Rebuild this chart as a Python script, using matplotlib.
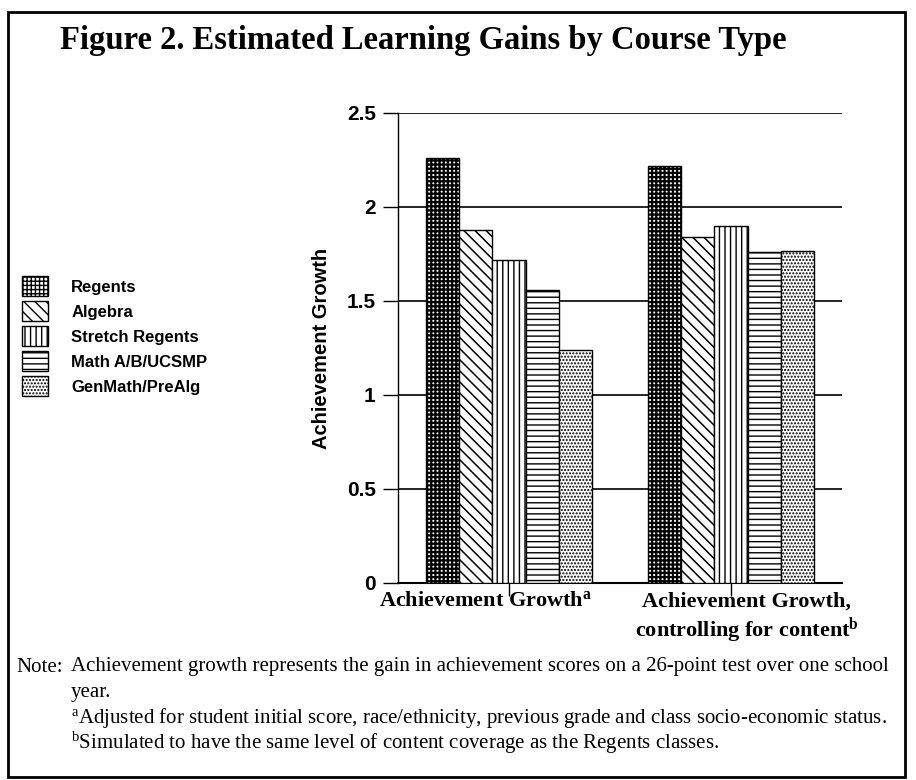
"""Figure 2: estimated learning gains by course type."""

import matplotlib.pyplot as plt
import numpy as np
from matplotlib.patches import Rectangle

plt.rcParams["mathtext.fontset"] = "custom"
plt.rcParams["mathtext.rm"] = "Liberation Serif"
plt.rcParams["mathtext.it"] = "Liberation Serif:italic"
plt.rcParams["mathtext.bf"] = "Liberation Serif:bold"
plt.rcParams["hatch.linewidth"] = 1.0

SANS = "Liberation Sans"
SERIF = "Liberation Serif"

# data
groups = ["Achievement Growth$^{\\mathbf{a}}$",
          "Achievement Growth,\ncontrolling for content$^{\\mathbf{b}}$"]
courses = ["Regents", "Algebra", "Stretch Regents", "Math A/B/UCSMP", "GenMath/PreAlg"]
regents = [2.26, 2.22]
algebra = [1.88, 1.84]
stretch_regents = [1.72, 1.90]
math_ab_ucsmp = [1.56, 1.76]
genmath_prealg = [1.24, 1.765]
yticks = [0, 0.5, 1, 1.5, 2, 2.5]
ytick_labels = ["0", "0.5", "1", "1.5", "2", "2.5"]

series = [regents, algebra, stretch_regents, math_ab_ucsmp, genmath_prealg]
hatches = ["++++", "\\\\\\", "|||", "---", "....."]
hatch_widths = [1.6, 1.1, 1.0, 1.0, 1.0]

fig = plt.figure(figsize=(9.16, 7.8), dpi=100)
ax = fig.add_axes([398 / 916, 1 - 583 / 780, 444 / 916, 470 / 780])

x = np.arange(len(groups))
width = 0.15
offsets = (np.arange(len(courses)) - 2) * width
handles = []
for vals, name, h, hw, off in zip(series, courses, hatches, hatch_widths, offsets):
    bars = ax.bar(x + off, vals, width, facecolor="white", edgecolor="black",
                  linewidth=1.0, hatch=h, zorder=3, label=name)
    for p in bars.patches:
        if hasattr(p, "set_hatch_linewidth"):
            p.set_hatch_linewidth(hw)
    handles.append(bars)

ax.set_xlim(-0.5, 1.5)
ax.set_ylim(0, 2.5)
ax.set_yticks(yticks)
ax.set_yticklabels(ytick_labels)
ax.yaxis.grid(True, color="black", linewidth=1.2)
ax.set_axisbelow(True)
for side in ("top", "right"):
    ax.spines[side].set_visible(False)
ax.spines["left"].set_linewidth(1.0)
ax.spines["bottom"].set_linewidth(1.5)
ax.tick_params(axis="y", length=11, width=1.0, pad=5, labelsize=15)
for lab in ax.get_yticklabels():
    lab.set_fontfamily(SANS)
    lab.set_fontweight("bold")

# group tick marks at the centres, labels placed a little off-centre like the original
ax.set_xticks(x)
ax.set_xticklabels([])
ax.tick_params(axis="x", which="major", length=9, width=1.0)
ax.set_xticks([-0.106, 1.07], minor=True)
ax.set_xticklabels(groups, minor=True, fontsize=16, fontweight="bold", family=SERIF)
ax.tick_params(axis="x", which="minor", length=0, pad=6)

ax.set_ylabel("Achievement Growth", fontsize=14.5, fontweight="bold", family=SANS)
ax.yaxis.set_label_coords(-0.152, 0.5)

fig.text(60 / 916, 1 - 41 / 780, "Figure 2. Estimated Learning Gains by Course Type",
         ha="left", va="center", fontsize=23.5, fontweight="bold", family=SERIF)

fig.legend(handles, courses, loc="upper left", bbox_to_anchor=(22 / 916, 1 - 276 / 780),
           frameon=False, borderpad=0, borderaxespad=0, handlelength=1.55,
           handleheight=1.5, labelspacing=0.28, handletextpad=1.4,
           prop={"family": SANS, "weight": "bold", "size": 12})

note_lines = [
    "Achievement growth represents the gain in achievement scores on a 26-point test over one school",
    "year.",
    "$^{\\mathrm{a}}$Adjusted for student initial score, race/ethnicity, previous grade and class socio-economic status.",
    "$^{\\mathrm{b}}$Simulated to have the same level of content coverage as the Regents classes.",
]
note_y = [667, 693, 718, 743]
fig.text(16 / 916, 1 - note_y[0] / 780, "Note:", ha="left", va="center", fontsize=15, family=SERIF)
for line, yy in zip(note_lines, note_y):
    fig.text(71 / 916, 1 - yy / 780, line, ha="left", va="center", fontsize=15, family=SERIF)

fig.add_artist(Rectangle((8 / 916, 1 - 777 / 780), 897 / 916, 765 / 780,
                         transform=fig.transFigure, fill=False, edgecolor="black", linewidth=2))

fig.savefig("out.png", dpi=100, facecolor="white")
